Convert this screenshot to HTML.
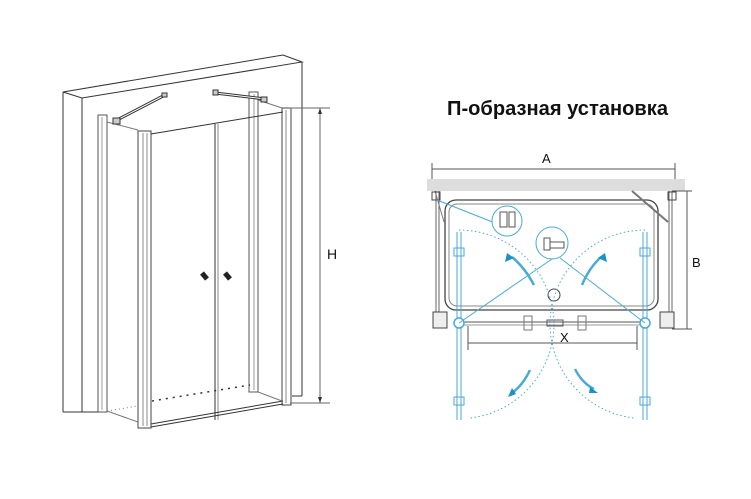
<!DOCTYPE html>
<html><head><meta charset="utf-8"><style>
html,body{margin:0;padding:0;background:#fff;}
svg{display:block;}
text{font-family:"Liberation Sans",sans-serif;}
</style></head><body>
<svg width="751" height="499" viewBox="0 0 751 499" xmlns="http://www.w3.org/2000/svg">
<rect width="751" height="499" fill="#fff"/>
<!-- 3D drawing -->
<g fill="none" stroke="#333" stroke-width="1">
  <polygon points="63,92 283,55 302,62 82,98" fill="#fff"/>
  <line x1="63" y1="92" x2="63" y2="412"/>
  <line x1="82" y1="98" x2="82" y2="412"/>
  <line x1="63" y1="412" x2="98" y2="412"/>
  <line x1="302" y1="62" x2="302" y2="396"/>
  <line x1="292" y1="396" x2="302" y2="396"/>
  <!-- left back panel -->
  <rect x="98" y="115" width="9" height="297" stroke="#555"/>
  <line x1="102" y1="117" x2="102" y2="410" stroke="#999"/>
  <!-- front left post -->
  <rect x="138" y="131" width="13" height="297" stroke="#444"/>
  <line x1="143" y1="133" x2="143" y2="426" stroke="#888"/>
  <line x1="147" y1="133" x2="147" y2="426" stroke="#888"/>
  <!-- back right post -->
  <rect x="249" y="92" width="9" height="300" stroke="#555"/>
  <line x1="254" y1="94" x2="254" y2="390" stroke="#999"/>
  <!-- front right post -->
  <rect x="282" y="108" width="9" height="297" stroke="#444"/>
  <line x1="286" y1="110" x2="286" y2="403" stroke="#888"/>
  <!-- center -->
  <line x1="215" y1="124" x2="215" y2="420"/>
  <line x1="218" y1="124" x2="218" y2="420" stroke="#888"/>
  <!-- top line -->
  <line x1="151" y1="134" x2="283" y2="112"/>
  <line x1="107" y1="122" x2="138" y2="130" stroke="#777"/>
  <line x1="258" y1="100" x2="282" y2="108" stroke="#777"/>
  <!-- bottom -->
  <line x1="151" y1="424" x2="283" y2="401"/>
  <line x1="151" y1="427" x2="283" y2="404"/>
  <line x1="107" y1="411" x2="138" y2="422" stroke="#777"/>
  <line x1="258" y1="392" x2="282" y2="401" stroke="#777"/>
  <line x1="152" y1="401" x2="250" y2="385" stroke="#333" stroke-width="1.5" stroke-dasharray="2,5"/>
  <line x1="107" y1="411" x2="138" y2="406" stroke="#777" stroke-dasharray="1,3"/>
  <!-- arms -->
  <line x1="117" y1="120" x2="165" y2="95" stroke-width="3"/>
  <line x1="117" y1="120" x2="165" y2="95" stroke="#fff" stroke-width="1"/>
  <rect x="113" y="118" width="7" height="6" fill="#ccc"/>
  <rect x="162" y="93" width="5" height="4" fill="#ccc"/>
  <line x1="215" y1="93" x2="265" y2="99" stroke-width="3"/>
  <line x1="215" y1="93" x2="265" y2="99" stroke="#fff" stroke-width="1"/>
  <rect x="213" y="90" width="5" height="5" fill="#ccc"/>
  <rect x="261" y="97" width="6" height="5" fill="#ccc"/>
  <!-- handles -->
  <line x1="202" y1="273" x2="207" y2="279" stroke="#222" stroke-width="5"/>
  <line x1="225" y1="273" x2="230" y2="279" stroke="#222" stroke-width="5"/>
  <!-- H dim -->
  <line x1="290" y1="108" x2="330" y2="108" stroke="#666"/>
  <line x1="290" y1="403" x2="330" y2="403" stroke="#666"/>
  <line x1="320" y1="108" x2="320" y2="403" stroke="#666"/>
</g>
<polygon points="320,108 318,114 322,114" fill="#333"/>
<polygon points="320,403 318,397 322,397" fill="#333"/>
<text x="327" y="259" font-size="14" fill="#111">H</text>

<!-- title -->
<text x="447" y="115" font-size="20" font-weight="bold" fill="#111" textLength="221" lengthAdjust="spacingAndGlyphs">П-образная установка</text>

<!-- plan view -->
<g fill="none">
  <line x1="432" y1="163" x2="432" y2="190" stroke="#555"/>
  <line x1="675" y1="163" x2="675" y2="190" stroke="#555"/>
  <line x1="432" y1="169" x2="675" y2="169" stroke="#555"/>
  <rect x="427" y="179" width="258" height="12" fill="#ddd" stroke="none"/>
  <rect x="445" y="200" width="213" height="110" rx="11" stroke="#444" stroke-width="1.3"/>
  <rect x="449" y="204" width="205" height="102" rx="8" stroke="#888"/>
  <circle cx="554" cy="295" r="6" stroke="#444"/>
  <line x1="436" y1="191" x2="436" y2="313" stroke="#666"/>
  <line x1="439" y1="191" x2="439" y2="313" stroke="#666"/>
  <line x1="669" y1="191" x2="669" y2="313" stroke="#666"/>
  <line x1="672" y1="191" x2="672" y2="313" stroke="#666"/>
  <line x1="435" y1="191" x2="444" y2="222" stroke="#777"/>
  <line x1="632" y1="191" x2="668" y2="222" stroke="#777" stroke-width="2"/>
  <rect x="432" y="192" width="8" height="8" stroke="#444"/>
  <rect x="668" y="192" width="8" height="8" stroke="#444"/>
  <rect x="433" y="312" width="14" height="16" stroke="#444" fill="#eee"/>
  <rect x="660" y="312" width="14" height="16" stroke="#444" fill="#eee"/>
  <line x1="459" y1="322" x2="645" y2="322" stroke="#555"/>
  <line x1="459" y1="325" x2="645" y2="325" stroke="#999"/>
  <rect x="524" y="316" width="8" height="14" stroke="#777"/>
  <rect x="578" y="316" width="8" height="14" stroke="#777"/>
  <rect x="547" y="320" width="16" height="6" stroke="#555"/>
  <line x1="687" y1="191" x2="687" y2="329" stroke="#555"/>
  <line x1="672" y1="191" x2="692" y2="191" stroke="#555"/>
  <line x1="672" y1="329" x2="692" y2="329" stroke="#555"/>
  <line x1="468" y1="343" x2="637" y2="343" stroke="#555"/>
  <line x1="468" y1="326" x2="468" y2="350" stroke="#555"/>
  <line x1="637" y1="326" x2="637" y2="350" stroke="#555"/>
  <!-- blue -->
  <g stroke="#4aaad6">
    <line x1="457" y1="232" x2="457" y2="420"/>
    <line x1="461" y1="232" x2="461" y2="420"/>
    <line x1="643" y1="232" x2="643" y2="420"/>
    <line x1="647" y1="232" x2="647" y2="420"/>
    <circle cx="459" cy="323" r="5" stroke-width="1.5" fill="#fff"/>
    <circle cx="645" cy="323" r="5" stroke-width="1.5" fill="#fff"/>
    <path d="M459,230 A95,95 0 0 1 554,323 A95,95 0 0 1 470,418" stroke-dasharray="1.5,2.5"/>
    <path d="M645,230 A95,95 0 0 0 550,323 A95,95 0 0 0 634,418" stroke-dasharray="1.5,2.5"/>
    <line x1="459" y1="323" x2="552" y2="259"/>
    <line x1="645" y1="323" x2="560" y2="258"/>
    <line x1="437" y1="200" x2="495" y2="223"/>
    <circle cx="507" cy="221" r="15" fill="#fff"/>
    <circle cx="552" cy="243" r="16" fill="#fff"/>
    <rect x="454" y="248" width="10" height="8"/>
    <rect x="640" y="248" width="10" height="8"/>
    <rect x="454" y="397" width="10" height="8"/>
    <rect x="640" y="397" width="10" height="8"/>
    <path d="M534,285 Q525,268 512,257" stroke-width="2.5"/>
    <path d="M582,285 Q589,268 601,257" stroke-width="2.5"/>
    <path d="M530,370 Q523,385 512,393" stroke-width="2.5"/>
    <path d="M575,369 Q582,383 594,389" stroke-width="2.5"/>
  </g>
  <g stroke="#555">
    <rect x="500" y="212" width="7" height="15"/>
    <rect x="509" y="212" width="6" height="15"/>
    <rect x="544" y="238" width="6" height="12"/>
    <rect x="550" y="242" width="14" height="6"/>
  </g>
</g>
<polygon points="507,253 505,262 514,258" fill="#1c8fc9"/>
<polygon points="605,253 598,258 607,262" fill="#1c8fc9"/>
<polygon points="508,397 512,388 516,394" fill="#1c8fc9"/>
<polygon points="598,393 590,387 589,393" fill="#1c8fc9"/>
<text x="542" y="163" font-size="13" fill="#111">A</text>
<text x="692" y="267" font-size="13" fill="#111">B</text>
<text x="560" y="342" font-size="13" fill="#111">X</text>
</svg>
</body></html>
